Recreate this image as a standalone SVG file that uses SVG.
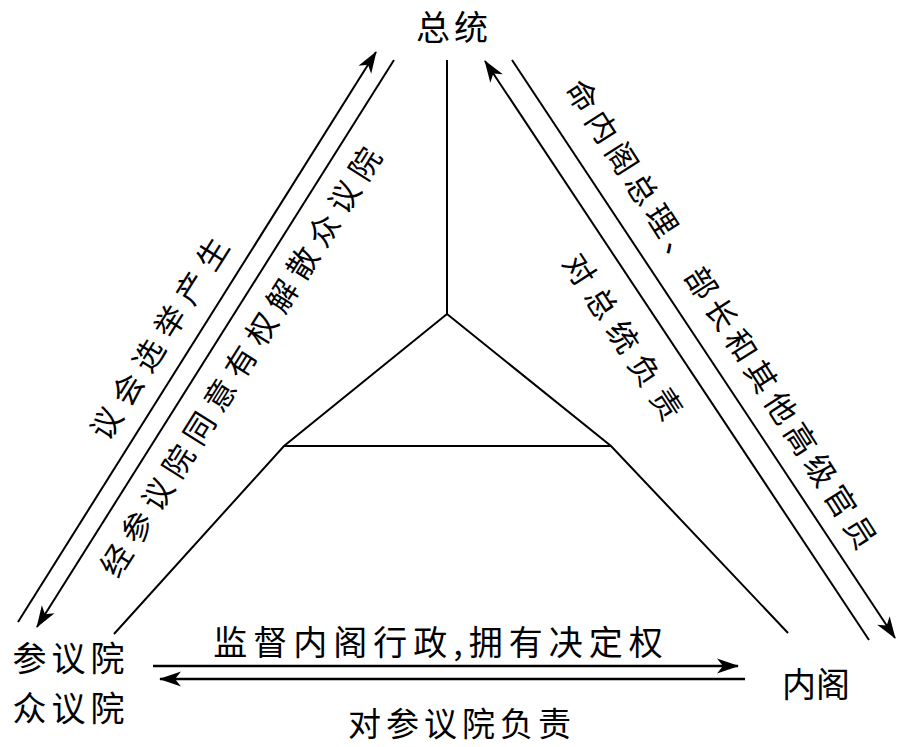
<svg xmlns="http://www.w3.org/2000/svg" width="917" height="747" viewBox="0 0 917 747">
  <style>
    .t { font-family: "Noto Sans CJK SC", "Noto Sans", sans-serif; fill: #000; dominant-baseline: central; text-anchor: middle; }
    .ln { stroke: #000; stroke-width: 2; fill: none; }
    .ar { stroke: #000; stroke-width: 2; fill: none; marker-end: url(#ah); }
    .hr { stroke: #000; stroke-width: 2.6; fill: none; marker-end: url(#ah); }
  </style>
  <defs>
    <marker id="ah" markerUnits="userSpaceOnUse" markerWidth="26" markerHeight="18" viewBox="-23 -9 26 18" refX="0" refY="0" orient="auto">
      <path d="M1,0 L-21,-7.5 L-15,0 L-21,7.5 Z" fill="#000"/>
    </marker>
  </defs>
  <rect width="917" height="747" fill="#fff"/>

  <g id="connectors">
    <line class="ln" x1="447" y1="60" x2="447" y2="314"/>
    <polyline class="ln" points="114,634 284,446 447,314 611,446 788,633"/>
    <line class="ln" x1="284" y1="446" x2="611" y2="446"/>
    <line class="ar" x1="18" y1="622" x2="376" y2="52"/>
    <line class="ar" x1="394" y1="60" x2="37" y2="627"/>
    <line class="ar" x1="869" y1="640" x2="485" y2="61"/>
    <line class="ar" x1="512" y1="60" x2="895" y2="638"/>
    <line class="hr" x1="153" y1="666" x2="738" y2="666"/>
    <line class="hr" x1="745" y1="679" x2="160" y2="679"/>
  </g>

  <g id="president">
    <text class="t" x="454" y="25" font-size="34" letter-spacing="4">总统</text>
  </g>
  <g id="senate">
    <text class="t" x="71" y="656" font-size="34" letter-spacing="5">参议院</text>
  </g>
  <g id="house">
    <text class="t" x="71" y="706" font-size="34" letter-spacing="5">众议院</text>
  </g>
  <g id="cabinet">
    <text class="t" x="816" y="682" font-size="34">内阁</text>
  </g>

  <g id="labels">
    <text class="t" x="162" y="337" font-size="31" letter-spacing="9" transform="rotate(-57.9 158 337)">议会选举产生</text>
    <text class="t" x="243" y="361" font-size="31" letter-spacing="8" transform="rotate(-57.9 239 361)">经参议院同意有权解散众议院</text>
    <text class="t" x="726" y="313" font-size="31" letter-spacing="6" transform="rotate(57.5 723 313)">命内阁总理、部长和其他高级官员</text>
    <text class="t" x="629" y="336" font-size="31" letter-spacing="9" transform="rotate(57 625 336)">对总统负责</text>
    <text class="t" x="441" y="640" font-size="34" letter-spacing="6">监督内阁行政,拥有决定权</text>
    <text class="t" x="462" y="722" font-size="33" letter-spacing="5">对参议院负责</text>
  </g>
</svg>
